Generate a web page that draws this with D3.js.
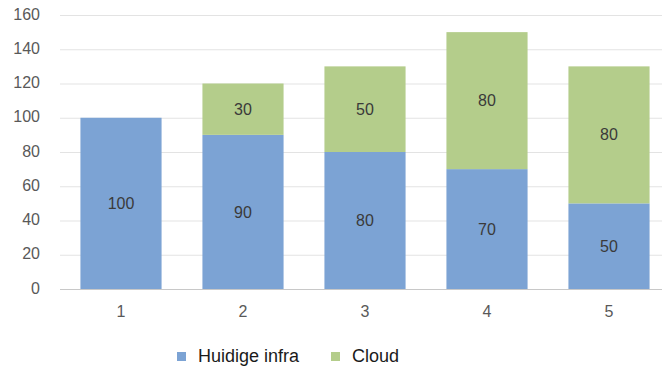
<!DOCTYPE html>
<html><head><meta charset="utf-8">
<script src="https://cdn.jsdelivr.net/npm/d3@7"></script>
<style>body{margin:0;background:#fff}svg{display:block}text{font-family:"Liberation Sans",Arial,sans-serif}</style>
</head><body><svg id="c" width="662" height="369"></svg>
<script>
const categories = ["1","2","3","4","5"];
const seriesNames = ["Huidige infra","Cloud"];
const huidige = [100,90,80,70,50];
const cloud = [0,30,50,80,80];
const yTicks = [0,20,40,60,80,100,120,140,160];
const colors = ["#7ca3d4","#b4cd8b"];

const svg = d3.select("#c");
const x = d3.scaleBand().domain(categories).range([60,670]).paddingInner(0.335).paddingOuter(0.1675);
const y = d3.scaleLinear().domain([0,160]).range([289,15]);

// gridlines
svg.append("g").selectAll("line").data(yTicks).join("line")
  .attr("x1",60).attr("x2",662).attr("y1",d=>y(d)+0.5).attr("y2",d=>y(d)+0.5)
  .attr("stroke",d=>d===0?"#c8c8c8":"#e3e3e3").attr("stroke-width",1);

// y axis labels
const yAxis = d3.axisLeft(y).tickValues(yTicks).tickSize(0).tickPadding(0);
const ya = svg.append("g").attr("transform","translate(40,-1)").call(yAxis);
ya.select(".domain").remove();
ya.selectAll("text").attr("fill","#595959").style("font-size","16px");

// x axis labels
const xAxis = d3.axisBottom(x).tickSize(0).tickPadding(0);
const xa = svg.append("g").attr("transform","translate(0,306)").call(xAxis);
xa.select(".domain").remove();
xa.selectAll("text").attr("fill","#595959").style("font-size","16px").attr("dy","0.71em");

const data = categories.map((c,i)=>({cat:c, "Huidige infra":huidige[i], "Cloud":cloud[i]}));
const stack = d3.stack().keys(seriesNames)(data);

stack.forEach((s,si)=>{
  const g = svg.append("g");
  g.selectAll("rect").data(s.filter(d=>d[1]-d[0]>0)).join("rect")
    .attr("x",d=>x(d.data.cat)).attr("width",x.bandwidth())
    .attr("y",d=>y(d[1])).attr("height",d=>y(d[0])-y(d[1]))
    .attr("fill",colors[si]);
  g.selectAll("text").data(s.filter(d=>d[1]-d[0]>0)).join("text")
    .attr("x",d=>x(d.data.cat)+x.bandwidth()/2)
    .attr("y",d=>(y(d[0])+y(d[1]))/2)
    .attr("dy","0.35em").attr("text-anchor","middle")
    .attr("fill","#3a3a3a").style("font-size","16px")
    .text(d=>d[1]-d[0]);
});

// legend
const legX = [177,331];
const leg = svg.append("g");
seriesNames.forEach((n,i)=>{
  leg.append("rect").attr("x",legX[i]).attr("y",352).attr("width",9).attr("height",9).attr("fill",colors[i]);
  leg.append("text").attr("x",legX[i]+21).attr("y",356).attr("dy","0.35em")
    .attr("fill","#1a1a1a").style("font-size","18px").text(n);
});
</script></body></html>
